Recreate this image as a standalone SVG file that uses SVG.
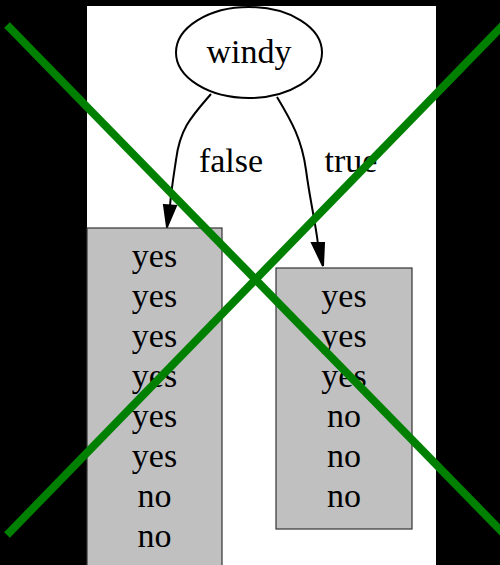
<svg xmlns="http://www.w3.org/2000/svg" width="500" height="565" viewBox="0 0 500 565">
<style>
text{font-family:"Liberation Serif","Times New Roman",serif;font-size:34px;fill:#000;text-anchor:middle}
.box{fill:#c0c0c0;stroke:#333;stroke-width:1.2}
.edge{fill:none;stroke:#000;stroke-width:2}
.head{fill:#000;stroke:#000;stroke-width:2}
.cross{stroke:#008000;stroke-width:8;fill:none}
</style>
<rect x="0" y="0" width="500" height="565" fill="#000"/>
<rect x="87" y="6" width="349" height="565" fill="#fff"/>
<g id="connectors">
<path class="edge" d="M211,94 C192,116 180,128 176,160 C173,180 171,192 170,206"/>
<polygon class="head" points="164,205 176,206 167,227"/>
<path class="edge" d="M277,97 C292,122 302,140 306,170 C310,200 315,220 318,244"/>
<polygon class="head" points="312,243 324,243 323,266"/>
<text x="231" y="172">false</text>
<text x="351" y="172">true</text>
</g>
<g id="windy">
<ellipse cx="249" cy="52.5" rx="73" ry="45.5" fill="#fff" stroke="#000" stroke-width="2"/>
<text x="249" y="63">windy</text>
</g>
<g id="leaf-false">
<rect class="box" x="87" y="228" width="135" height="345"/>
<text x="154.5" y="267">yes</text>
<text x="154.5" y="307">yes</text>
<text x="154.5" y="347">yes</text>
<text x="154.5" y="387">yes</text>
<text x="154.5" y="427">yes</text>
<text x="154.5" y="467">yes</text>
<text x="154.5" y="507">no</text>
<text x="154.5" y="547">no</text>
</g>
<g id="leaf-true">
<rect class="box" x="276" y="268" width="136" height="261"/>
<text x="344" y="307">yes</text>
<text x="344" y="347">yes</text>
<text x="344" y="387">yes</text>
<text x="344" y="427">no</text>
<text x="344" y="467">no</text>
<text x="344" y="507">no</text>
</g>
<g id="cross">
<line class="cross" x1="7" y1="25" x2="505" y2="535"/>
<line class="cross" x1="7" y1="535" x2="505" y2="23"/>
</g>
</svg>
